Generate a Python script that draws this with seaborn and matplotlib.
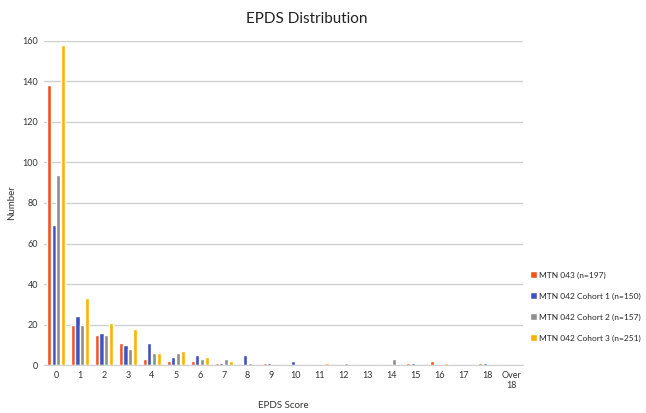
import pandas as pd
import seaborn as sns
import matplotlib.pyplot as plt

# EPDS score categories
scores = ["0", "1", "2", "3", "4", "5", "6", "7", "8", "9", "10",
          "11", "12", "13", "14", "15", "16", "17", "18", "Over\n18"]

mtn043 = [138, 20, 15, 11, 3, 2, 2, 1, 0, 1, 0, 0, 0, 0, 0, 1, 2, 0, 1, 0]
cohort1 = [69, 24, 16, 10, 11, 4, 5, 1, 5, 1, 2, 0, 0, 0, 0, 1, 0, 0, 1, 0]
cohort2 = [94, 20, 15, 8, 6, 6, 3, 3, 1, 0, 0, 0, 1, 0, 3, 0, 0, 0, 0, 0]
cohort3 = [158, 33, 21, 18, 6, 7, 4, 2, 0, 0, 0, 1, 0, 0, 0, 0, 1, 0, 0, 0]

series = ["MTN 043 (n=197)", "MTN 042 Cohort 1 (n=150)",
          "MTN 042 Cohort 2 (n=157)", "MTN 042 Cohort 3 (n=251)"]
colors = ["#F4511E", "#3F51C0", "#8E8E8E", "#FFB300"]

df = pd.DataFrame({
    "score": scores * 4,
    "count": mtn043 + cohort1 + cohort2 + cohort3,
    "group": [s for s in series for _ in scores],
})

sns.set_style("white")
plt.rcParams["font.family"] = ["Lato", "DejaVu Sans"]

fig = plt.figure(figsize=(6.46, 4.13), dpi=100)
ax = fig.add_axes([0.068, 0.116, 0.742, 0.785])

sns.barplot(data=df, x="score", y="count", hue="group", order=scores,
            hue_order=series, palette=colors, width=0.78, gap=0.12,
            saturation=1, ax=ax, legend=True)

ax.set_ylim(0, 160)
ax.set_yticks(range(0, 161, 20))
ax.yaxis.grid(True, color="#d0d0d0", linewidth=1)
ax.set_axisbelow(True)
for side in ["left", "right", "top"]:
    ax.spines[side].set_visible(False)
ax.spines["bottom"].set_color("#d0d0d0")
ax.tick_params(axis="both", length=0, labelsize=6.5, colors="#333333", pad=4)
ax.set_xlabel("EPDS Score", fontsize=7, color="#333333", labelpad=8)
ax.set_ylabel("Number", fontsize=7, color="#333333", labelpad=5)
fig.suptitle("EPDS Distribution", fontsize=11, color="#222222", x=0.475, y=0.97)

handles, labels = ax.get_legend_handles_labels()
ax.get_legend().remove()
fig.legend(handles, labels, loc="center left", bbox_to_anchor=(0.818, 0.258),
           frameon=False, fontsize=6, labelspacing=1.65,
           handlelength=0.8, handleheight=0.8, handletextpad=0.3,
           borderaxespad=0, borderpad=0.2)

fig.savefig("out.png", dpi=100)
